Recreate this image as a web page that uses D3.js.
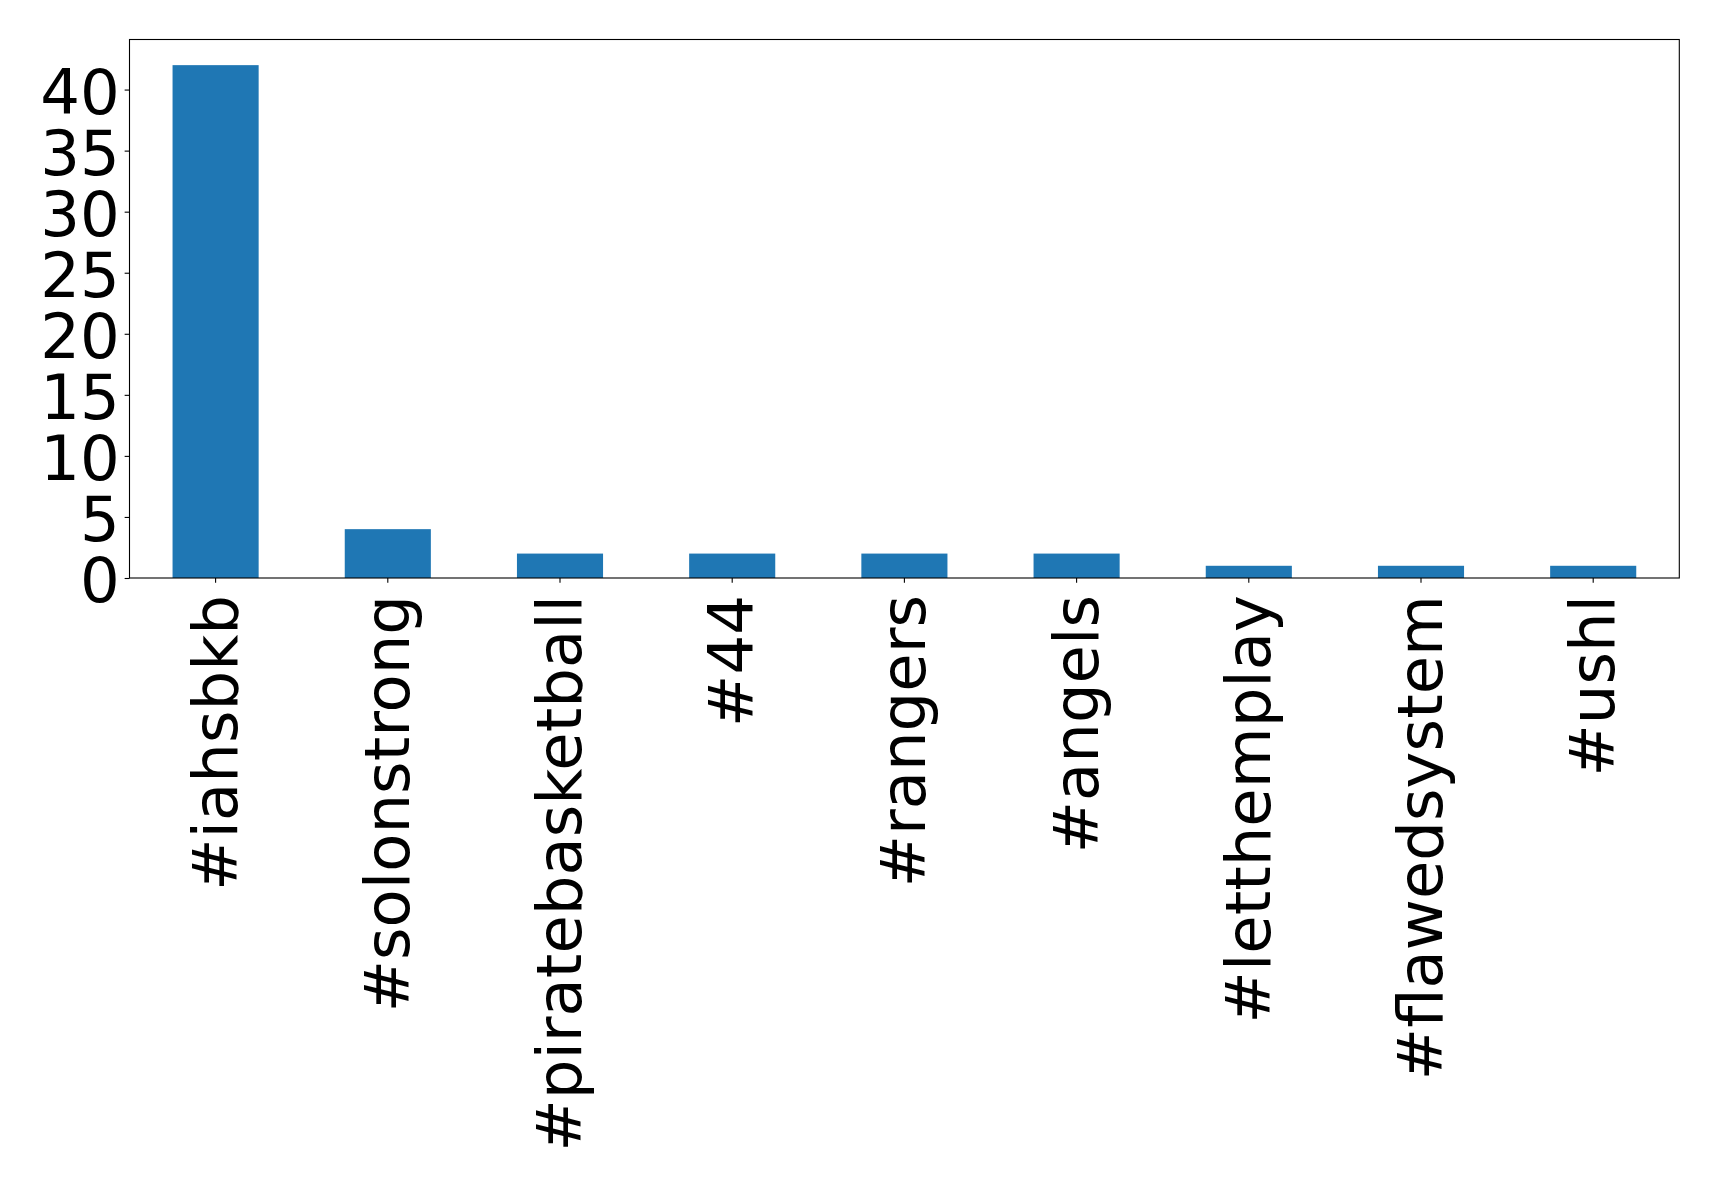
<!DOCTYPE html>
<html><head><meta charset="utf-8">
<script src="https://cdn.jsdelivr.net/npm/d3@7"></script>
<style>body{margin:0;background:#fff}svg{display:block}</style>
</head><body>
<svg id="c" width="1719" height="1184"></svg>
<script>
const categories = ["#iahsbkb","#solonstrong","#piratebasketball","#44","#rangers","#angels","#letthemplay","#flawedsystem","#ushl"];
const counts = [42,4,2,2,2,2,1,1,1];
const yTicks = [0,5,10,15,20,25,30,35,40];

const W=1719,H=1184;
const m={left:129.5,top:39.5,right:1679.3,bottom:578};
const svg=d3.select("#c");
const x=d3.scaleBand().domain(categories).range([m.left,m.right]).paddingInner(0.5).paddingOuter(0.25);
const y=d3.scaleLinear().domain([0,d3.max(counts)*1.05]).range([m.bottom,m.top]);
const font="'DejaVu Sans', sans-serif";
const fs=62.5, tickLen=4.86, pad=4.86;

svg.append("g").selectAll("rect").data(categories).join("rect")
  .attr("x",d=>x(d)).attr("width",x.bandwidth())
  .attr("y",(d,i)=>y(counts[i])).attr("height",(d,i)=>y(0)-y(counts[i]))
  .attr("fill","#1f77b4");

// frame
svg.append("rect").attr("x",m.left).attr("y",m.top).attr("width",m.right-m.left).attr("height",m.bottom-m.top)
  .attr("fill","none").attr("stroke","#000").attr("stroke-width",1.1);

const ya=svg.append("g").attr("transform",`translate(${m.left},0)`)
  .call(d3.axisLeft(y).tickValues(yTicks).tickSize(tickLen).tickPadding(pad).tickFormat(d3.format("d")));
ya.select(".domain").remove();
ya.selectAll("line").attr("stroke","#000").attr("stroke-width",1.1);
ya.selectAll("text").attr("font-family",font).attr("font-size",fs).attr("fill","#000").attr("dy","0.38em");

const xa=svg.append("g").attr("transform",`translate(0,${m.bottom})`)
  .call(d3.axisBottom(x).tickSize(tickLen).tickPadding(0));
xa.select(".domain").remove();
xa.selectAll("line").attr("stroke","#000").attr("stroke-width",1.1);
xa.selectAll("text").attr("font-family",font).attr("font-size",fs).attr("fill","#000")
  .attr("text-anchor","end").attr("transform","rotate(-90)")
  .attr("x",-17).attr("y",0).attr("dy","0.336em");
</script>
</body></html>
